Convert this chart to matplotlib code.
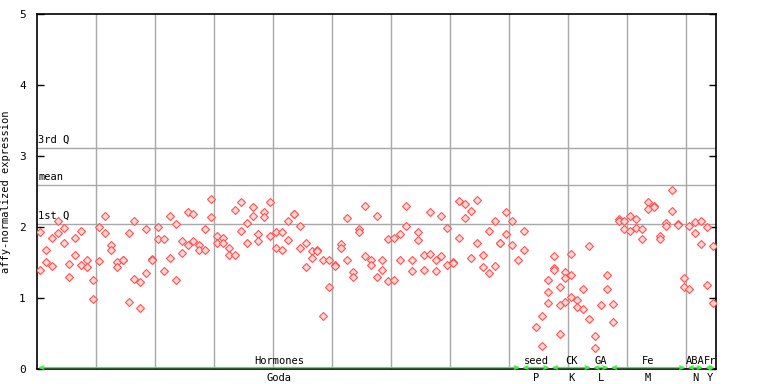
import matplotlib
matplotlib.use("Agg")
import matplotlib.pyplot as plt
import matplotlib.transforms as mtransforms

# ---- data ----
sample_idx = [1, 1, 2, 2, 3, 3, 4, 4, 5, 5, 6, 6, 7, 7, 8, 8, 9, 9, 10, 10,
              11, 11, 12, 12, 13, 13, 14, 14, 15, 15, 16, 16, 17, 17, 18, 18, 19, 19, 20, 20,
              21, 21, 22, 22, 23, 23, 24, 24, 25, 25, 26, 26, 27, 27, 28, 28, 29, 29, 30, 30,
              31, 31, 32, 32, 33, 33, 34, 34, 35, 35, 36, 36, 37, 37, 38, 38, 39, 39, 40, 40,
              41, 41, 42, 42, 43, 43, 44, 44, 45, 45, 46, 46, 47, 47, 48, 48, 49, 49, 50, 50,
              51, 51, 52, 52, 53, 53, 54, 54, 55, 55, 56, 56, 57, 57, 58, 58, 59, 59, 60, 60,
              61, 61, 62, 62, 63, 63, 64, 64, 65, 65, 66, 66, 67, 67, 68, 68, 69, 69, 70, 70,
              71, 71, 72, 72, 73, 73, 74, 74, 75, 75, 76, 76, 77, 77, 78, 78, 79, 79, 80, 80,
              81, 81, 82, 83, 83, 85, 86, 86, 87, 87, 87, 88, 88, 88, 89, 89, 89,
              90, 90, 90, 91, 91, 91, 92, 92, 93, 93, 94, 94, 95, 95, 96, 97, 97, 98, 98,
              99, 99, 100, 100, 101, 101, 102, 102, 103, 103, 104, 104, 105, 105, 106, 106,
              107, 107, 108, 108, 109, 109, 110, 110, 111, 111, 112, 112, 113, 113, 114, 114,
              115, 115]
expression = [1.93, 1.39, 1.68, 1.51, 1.84, 1.45, 2.09, 1.91, 1.98, 1.77, 1.48, 1.29, 1.84, 1.60,
              1.95, 1.47, 1.53, 1.43, 1.26, 0.99,
              2.00, 1.52, 2.15, 1.91, 1.74, 1.67, 1.51, 1.43, 1.54, 1.53, 1.91, 0.95, 2.09, 1.27,
              1.22, 0.86, 1.97, 1.35, 1.55, 1.53,
              2.00, 1.83, 1.83, 1.38, 2.15, 1.56, 2.04, 1.25, 1.80, 1.63, 2.21, 1.74, 2.19, 1.80,
              1.74, 1.68, 1.97, 1.67, 2.40, 2.14,
              1.87, 1.77, 1.85, 1.77, 1.71, 1.60, 2.24, 1.60, 2.35, 1.94, 2.05, 1.77, 2.28, 2.15,
              1.90, 1.80, 2.21, 2.14, 2.35, 1.87,
              1.93, 1.71, 1.93, 1.67, 2.08, 1.81, 2.18, 2.18, 2.02, 1.71, 1.78, 1.43, 1.66, 1.57,
              1.67, 1.66, 1.54, 0.74, 1.53, 1.16,
              1.47, 1.45, 1.76, 1.70, 2.12, 1.54, 1.36, 1.29, 1.97, 1.93, 2.29, 1.59, 1.53, 1.47,
              2.15, 1.29, 1.54, 1.40, 1.83, 1.24,
              1.85, 1.26, 1.90, 1.53, 2.29, 2.02, 1.54, 1.38, 1.93, 1.81, 1.60, 1.40, 2.21, 1.62,
              1.53, 1.38, 2.15, 1.59, 1.98, 1.47,
              1.51, 1.50, 2.36, 1.85, 2.32, 2.12, 2.22, 1.57, 2.38, 1.78, 1.60, 1.43, 1.94, 1.35,
              2.09, 1.45, 1.78, 1.77, 2.21, 1.90,
              2.08, 1.74, 1.54, 1.95, 1.67, 0.59, 0.74, 0.32, 1.26, 1.09, 0.93, 1.59, 1.42, 1.39,
              1.15, 0.90, 0.49,
              1.36, 1.28, 0.95, 1.62, 1.33, 1.01, 0.97, 0.88, 1.12, 0.84, 1.73, 0.70, 0.46, 0.29,
              0.90, 1.33, 1.12, 0.91, 0.66,
              2.11, 2.08, 2.09, 1.97, 2.16, 1.95, 2.11, 1.98, 1.97, 1.83, 2.35, 2.26, 2.29, 2.28,
              1.87, 1.83,
              2.05, 2.02, 2.52, 2.22, 2.04, 2.03, 1.28, 1.16, 2.01, 1.12, 2.07, 1.91, 2.08, 1.76,
              2.00, 1.19,
              1.73, 0.93]

n_samples = 115
ref_labels = ["3rd Q", "mean", "1st Q"]
ref_values = [3.11, 2.59, 2.04]

group_names = ["Hormones", "seed", "CK", "GA", "Fe", "ABA", "Fr"]
group_start = [1, 83, 88, 95, 98, 111, 114]
group_end = [82, 87, 94, 97, 110, 113, 115]
sub_names = ["Goda", "P", "K", "L", "M", "N", "Y"]

yticks = [0, 1, 2, 3, 4, 5]

# ---- figure ----
mono = "DejaVu Sans Mono"
fig = plt.figure(figsize=(7.68, 3.84), dpi=100)
ax = fig.add_axes([37 / 768, 15 / 384, (716 - 37) / 768, (369 - 14) / 384])
ax.set_xlim(0.5, n_samples + 0.5)
ax.set_ylim(0, 5)

# vertical grid lines every 10 samples
for b in range(10, n_samples, 10):
    ax.axvline(b + 0.5, color="#a8a8a8", lw=1.0, zorder=1)

# reference lines
for lab, v in zip(ref_labels, ref_values):
    ax.axhline(v, color="#a8a8a8", lw=1.0, zorder=1)
    ax.text(0.7, v + 0.05, lab, fontsize=7.5, family=mono, ha="left", va="bottom", zorder=3)

ax.plot(sample_idx, expression, linestyle="none", marker="D", markersize=4.0,
        markerfacecolor="#ffd8d8", markeredgecolor="#ff5050", markeredgewidth=0.8, zorder=4)

# spines and ticks
for s in ax.spines.values():
    s.set_color("black")
    s.set_linewidth(1.2)
ax.set_xticks([])
ax.set_yticks(yticks)
ax.set_yticklabels([str(t) for t in yticks], family=mono, fontsize=8)
ax.tick_params(axis="y", direction="in", length=5, width=1, right=True, pad=8)
ax.set_ylabel("affy-normalized expression", family=mono, fontsize=7.5, labelpad=6)

# groups along the bottom
trans = mtransforms.blended_transform_factory(ax.transData, ax.transAxes)
for name, sub, s, e in zip(group_names, sub_names, group_start, group_end):
    x0, x1 = s - 0.5, e + 0.5
    ax.annotate("", xy=(x0 + 0.15, 0.004), xytext=(x1 - 0.15, 0.004), xycoords=trans,
                textcoords=trans,
                arrowprops=dict(arrowstyle="<->,head_length=0.3,head_width=0.12",
                                color="#44ee44", lw=1.0, shrinkA=0, shrinkB=0),
                annotation_clip=False, zorder=5)
    xc = (x0 + x1) / 2
    ax.text(xc, 0.008, name, transform=trans, ha="center", va="bottom",
            fontsize=7.5, family=mono, clip_on=False)
    ax.text(xc, -0.012, sub, transform=trans, ha="center", va="top",
            fontsize=7.5, family=mono, clip_on=False)

fig.savefig("out.png", dpi=100)
